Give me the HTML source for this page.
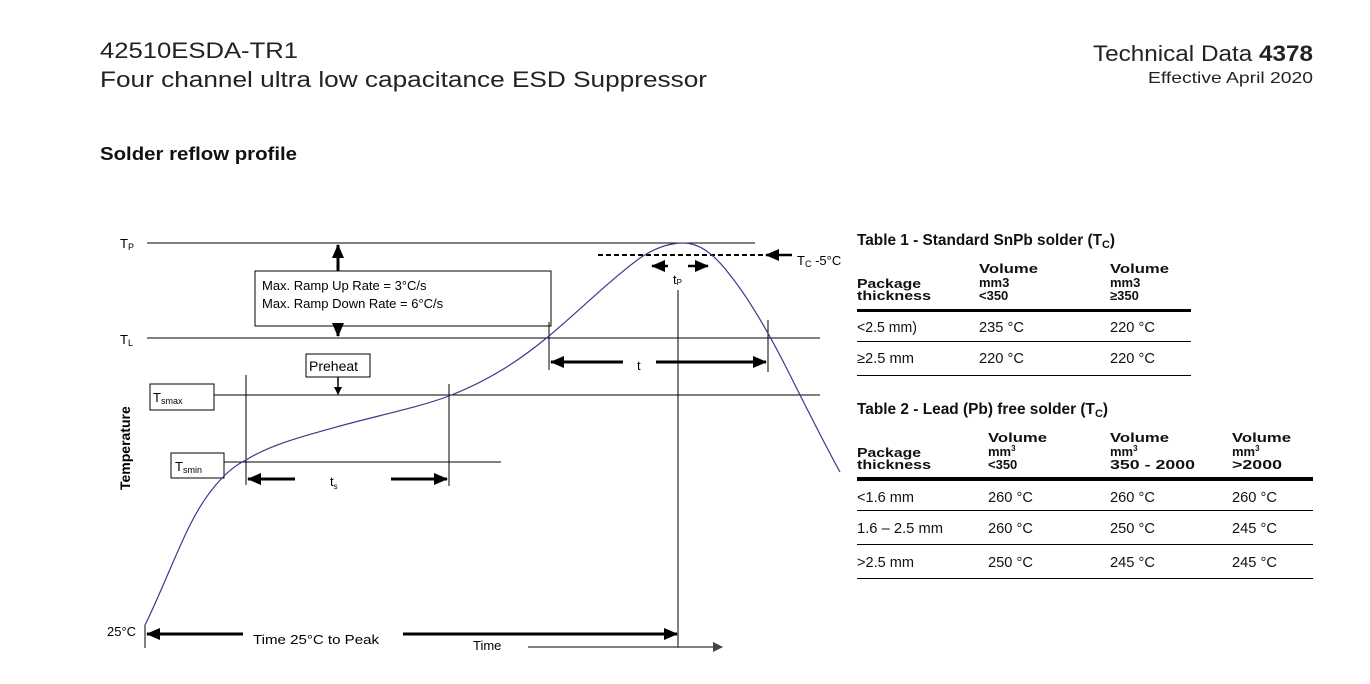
<!DOCTYPE html>
<html><head><meta charset="utf-8"><style>
html,body{margin:0;padding:0;background:#fff;}
svg{display:block;font-family:"Liberation Sans",sans-serif;}
</style></head><body>
<svg width="1370" height="684" viewBox="0 0 1370 684" xmlns="http://www.w3.org/2000/svg">
<defs>
<marker id="ah" markerWidth="8" markerHeight="8" refX="7" refY="4" orient="auto" markerUnits="userSpaceOnUse"><path d="M0,0 L8,4 L0,8 z" fill="#000"/></marker>
<marker id="ahb" markerWidth="14" markerHeight="12" refX="13" refY="6" orient="auto" markerUnits="userSpaceOnUse"><path d="M0,0 L14,6 L0,12 z" fill="#000"/></marker>
<marker id="ahg" markerWidth="10" markerHeight="10" refX="9" refY="5" orient="auto" markerUnits="userSpaceOnUse"><path d="M0,0 L10,5 L0,10 z" fill="#444"/></marker>
</defs>
<!-- header -->
<text x="100" y="58" font-size="22" fill="#222" textLength="198" lengthAdjust="spacingAndGlyphs">42510ESDA-TR1</text>
<text x="100" y="87" font-size="22" fill="#222" textLength="607" lengthAdjust="spacingAndGlyphs">Four channel ultra low capacitance ESD Suppressor</text>
<text x="1093" y="61" font-size="22" fill="#222" textLength="220" lengthAdjust="spacingAndGlyphs">Technical Data <tspan font-weight="bold">4378</tspan></text>
<text x="1148" y="83" font-size="16" fill="#222" textLength="165" lengthAdjust="spacingAndGlyphs">Effective April 2020</text>
<text x="100" y="160" font-size="18" font-weight="bold" fill="#111" textLength="197" lengthAdjust="spacingAndGlyphs">Solder reflow profile</text>

<g stroke="#000" stroke-width="1" fill="none">
<line x1="147" y1="243" x2="755" y2="243"/>
<line x1="147" y1="338" x2="820" y2="338"/>
<line x1="210" y1="395" x2="820" y2="395"/>
<line x1="216" y1="462" x2="501" y2="462"/>
<rect x="255" y="271" width="296" height="55" fill="#fff"/>
<rect x="306" y="354" width="64" height="23" fill="#fff"/>
<rect x="150" y="384" width="64" height="26" fill="#fff"/>
<rect x="171" y="453" width="53" height="25" fill="#fff"/>
<line x1="246" y1="375" x2="246" y2="485"/>
<line x1="449" y1="384" x2="449" y2="486"/>
<line x1="549" y1="322" x2="549" y2="370"/>
<line x1="768" y1="320" x2="768" y2="372"/>
<line x1="678" y1="290" x2="678" y2="648"/>
<line x1="145" y1="625" x2="145" y2="648"/>
<line x1="598" y1="255" x2="765" y2="255" stroke-width="2" stroke-dasharray="5,3"/>
</g>
<g stroke="#000" stroke-width="3" fill="none">
<line x1="338" y1="271" x2="338" y2="245" marker-end="url(#ahb)"/>
<line x1="338" y1="326" x2="338" y2="336" marker-end="url(#ahb)"/>
<line x1="338" y1="377" x2="338" y2="394" stroke-width="1.5" marker-end="url(#ah)"/>
<line x1="295" y1="479" x2="248" y2="479" marker-end="url(#ahb)"/>
<line x1="391" y1="479" x2="447" y2="479" marker-end="url(#ahb)"/>
<line x1="623" y1="362" x2="551" y2="362" marker-end="url(#ahb)"/>
<line x1="656" y1="362" x2="766" y2="362" marker-end="url(#ahb)"/>
<line x1="668" y1="266" x2="652" y2="266" stroke-width="2.5" marker-end="url(#ahb)"/>
<line x1="688" y1="266" x2="708" y2="266" stroke-width="2.5" marker-end="url(#ahb)"/>
<line x1="792" y1="255" x2="766" y2="255" stroke-width="2.5" marker-end="url(#ahb)"/>
<line x1="243" y1="634" x2="147" y2="634" marker-end="url(#ahb)"/>
<line x1="403" y1="634" x2="677" y2="634" marker-end="url(#ahb)"/>
</g>
<line x1="528" y1="647" x2="722" y2="647" stroke="#555" stroke-width="1.5" marker-end="url(#ahg)"/>
<path d="M145,625 C160,595 175,555 190,525 C205,495 225,470 246,460 C270,445 300,437 340,426 C380,415 420,407 449,396 C490,380 520,360 549,336 C580,310 610,280 640,258 C655,248 670,243 683,243 C700,243 715,255 730,275 C750,300 770,335 790,375 C810,415 825,445 840,472" fill="none" stroke="#3a3a8a" stroke-width="1.2"/>

<g font-size="13" fill="#000">
<text x="120" y="248">T<tspan font-size="9" dy="2">P</tspan></text>
<text x="120" y="344">T<tspan font-size="9" dy="2">L</tspan></text>
<text x="262" y="290">Max. Ramp Up Rate = 3°C/s</text>
<text x="262" y="308">Max. Ramp Down Rate = 6°C/s</text>
<text x="309" y="371" font-size="14">Preheat</text>
<text x="153" y="402">T<tspan font-size="9" dy="2">smax</tspan></text>
<text x="175" y="471">T<tspan font-size="9" dy="2">smin</tspan></text>
<text x="330" y="486">t<tspan font-size="8" dy="3">s</tspan></text>
<text x="637" y="370">t</text>
<text x="673" y="284">t<tspan font-size="8" dy="1">P</tspan></text>
<text x="797" y="265">T<tspan font-size="9" dy="2">C</tspan><tspan dy="-2"> -5°C</tspan></text>
<text x="107" y="636">25°C</text>
<text x="253" y="644" textLength="126" lengthAdjust="spacingAndGlyphs">Time 25°C to Peak</text>
<text x="473" y="650">Time</text>
<text transform="translate(130,490) rotate(-90)" font-weight="bold" font-size="14">Temperature</text>
</g>

<!-- tables -->
<g fill="#111">
<text x="857" y="245" font-size="15.5" font-weight="bold" textLength="258" lengthAdjust="spacingAndGlyphs">Table 1 - Standard SnPb solder (T<tspan font-size="11" dy="3">C</tspan><tspan dy="-3">)</tspan></text>
<g font-size="13" font-weight="bold">
<text x="857" y="288" textLength="64" lengthAdjust="spacingAndGlyphs">Package</text><text x="857" y="300" textLength="74" lengthAdjust="spacingAndGlyphs">thickness</text>
<text x="979" y="273" textLength="59" lengthAdjust="spacingAndGlyphs">Volume</text><text x="979" y="287">mm3</text><text x="979" y="300">&lt;350</text>
<text x="1110" y="273" textLength="59" lengthAdjust="spacingAndGlyphs">Volume</text><text x="1110" y="287">mm3</text><text x="1110" y="300">≥350</text>
</g>
<rect x="857" y="309" width="334" height="3" fill="#000"/>
<g font-size="14.5">
<text x="857" y="332" textLength="60" lengthAdjust="spacingAndGlyphs">&lt;2.5 mm)</text>
<text x="979" y="332" textLength="45" lengthAdjust="spacingAndGlyphs">235 °C</text>
<text x="1110" y="332" textLength="45" lengthAdjust="spacingAndGlyphs">220 °C</text>
<text x="857" y="363" textLength="57" lengthAdjust="spacingAndGlyphs">≥2.5 mm</text>
<text x="979" y="363" textLength="45" lengthAdjust="spacingAndGlyphs">220 °C</text>
<text x="1110" y="363" textLength="45" lengthAdjust="spacingAndGlyphs">220 °C</text>
</g>
<rect x="857" y="341" width="334" height="1" fill="#000"/>
<rect x="857" y="375" width="334" height="1" fill="#000"/>

<text x="857" y="414" font-size="15.5" font-weight="bold" textLength="251" lengthAdjust="spacingAndGlyphs">Table 2 - Lead (Pb) free solder (T<tspan font-size="11" dy="3">C</tspan><tspan dy="-3">)</tspan></text>
<g font-size="13" font-weight="bold">
<text x="857" y="457" textLength="64" lengthAdjust="spacingAndGlyphs">Package</text><text x="857" y="469" textLength="74" lengthAdjust="spacingAndGlyphs">thickness</text>
<text x="988" y="442" textLength="59" lengthAdjust="spacingAndGlyphs">Volume</text><text x="988" y="456">mm<tspan font-size="8" dy="-5">3</tspan></text><text x="988" y="469">&lt;350</text>
<text x="1110" y="442" textLength="59" lengthAdjust="spacingAndGlyphs">Volume</text><text x="1110" y="456">mm<tspan font-size="8" dy="-5">3</tspan></text><text x="1110" y="469" textLength="85" lengthAdjust="spacingAndGlyphs">350 - 2000</text>
<text x="1232" y="442" textLength="59" lengthAdjust="spacingAndGlyphs">Volume</text><text x="1232" y="456">mm<tspan font-size="8" dy="-5">3</tspan></text><text x="1232" y="469" textLength="50" lengthAdjust="spacingAndGlyphs">&gt;2000</text>
</g>
<rect x="857" y="477" width="456" height="4" fill="#000"/>
<g font-size="14.5">
<text x="857" y="502" textLength="57" lengthAdjust="spacingAndGlyphs">&lt;1.6 mm</text>
<text x="988" y="502" textLength="45" lengthAdjust="spacingAndGlyphs">260 °C</text>
<text x="1110" y="502" textLength="45" lengthAdjust="spacingAndGlyphs">260 °C</text>
<text x="1232" y="502" textLength="45" lengthAdjust="spacingAndGlyphs">260 °C</text>
<text x="857" y="533" textLength="86" lengthAdjust="spacingAndGlyphs">1.6 – 2.5 mm</text>
<text x="988" y="533" textLength="45" lengthAdjust="spacingAndGlyphs">260 °C</text>
<text x="1110" y="533" textLength="45" lengthAdjust="spacingAndGlyphs">250 °C</text>
<text x="1232" y="533" textLength="45" lengthAdjust="spacingAndGlyphs">245 °C</text>
<text x="857" y="567" textLength="57" lengthAdjust="spacingAndGlyphs">&gt;2.5 mm</text>
<text x="988" y="567" textLength="45" lengthAdjust="spacingAndGlyphs">250 °C</text>
<text x="1110" y="567" textLength="45" lengthAdjust="spacingAndGlyphs">245 °C</text>
<text x="1232" y="567" textLength="45" lengthAdjust="spacingAndGlyphs">245 °C</text>
</g>
<rect x="857" y="510" width="456" height="1" fill="#000"/>
<rect x="857" y="544" width="456" height="1" fill="#000"/>
<rect x="857" y="578" width="456" height="1" fill="#000"/>
</g>
</svg>
</body></html>
